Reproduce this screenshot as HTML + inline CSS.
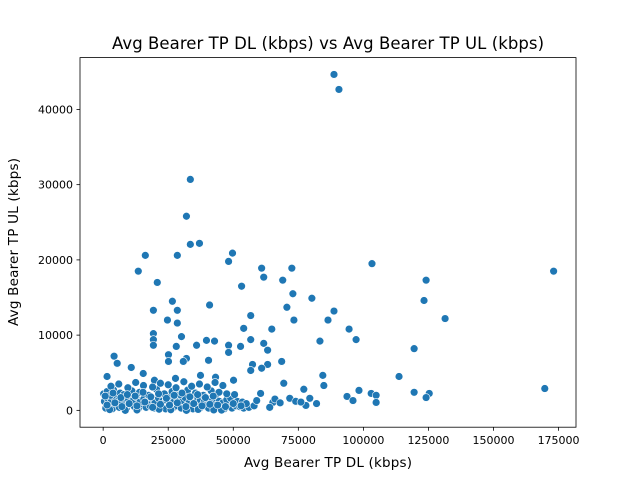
<!DOCTYPE html>
<html><head><meta charset="utf-8"><style>
html,body{margin:0;padding:0;background:#fff;}
svg{display:block;font-family:"DejaVu Sans","Liberation Sans",sans-serif;}
</style></head><body>
<svg id="chart" width="640" height="480" viewBox="0 0 640 480">
<rect x="0" y="0" width="640" height="480" fill="#fff"/>
<text x="328" y="49" font-size="16.5" text-anchor="middle" textLength="432">Avg Bearer TP DL (kbps) vs Avg Bearer TP UL (kbps)</text>
<g id="points"></g>
<g id="xticks"></g>
<g id="yticks"></g>
<rect x="80" y="57.6" width="496" height="369.6" fill="none" stroke="#000" stroke-width="0.8"/>
<text x="328" y="467" font-size="13.5" text-anchor="middle" textLength="168">Avg Bearer TP DL (kbps)</text>
<text x="18" y="242" font-size="13.5" text-anchor="middle" textLength="168" transform="rotate(-90 18 242)">Avg Bearer TP UL (kbps)</text>
</svg>
<script>
const xTicks=[0,25000,50000,75000,100000,125000,150000,175000];
const yTicks=[0,10000,20000,30000,40000];
const dlValues=[88700,90600,33500,32000,33500,37000,16200,28500,49700,48200,20800,13500,103300,60900,72500,61700,69000,53200,72900,80200,26600,28500,19300,88700,70600,40900,86400,56700,73300,24700,28500,54000,64800,94500,83300,97200,19300,19300,30100,39700,42800,35900,48200,28100,19300,61700,63200,56700,48200,4200,32000,40500,30800,25100,25100,57400,63200,68600,5400,10800,60900,56700,15400,1500,37400,84400,113700,19700,50100,69400,84800,43200,27800,169700,119500,98300,103000,104900,125300,124100,93700,96000,104900,77100,60500,65200,64000,77900,71700,79400,124100,123300,131400,119500,173100,52800,
1000,2000,3500,5000,6200,7500,9000,10500,12000,13500,15000,16500,18000,19500,21000,22500,24000,25500,27000,28500,30000,31500,33000,34500,36000,37500,39000,40500,42000,43500,45000,46500,48000,49500,51000,52500,54000,56000,58000,
500,1800,3000,4300,5800,7000,8400,9800,11200,12600,14100,15600,17000,18400,19900,21300,22800,24200,25700,27100,28600,30100,31500,33000,34400,35900,37300,38800,40200,41700,43100,44600,46000,47500,49000,51500,53500,
200,1500,2800,4000,6500,8000,11000,14000,17500,20500,23500,26500,29500,32500,35500,38500,41500,44500,47500,50500,
3000,6000,9500,12500,15500,19000,22000,25000,28000,31000,34000,37000,40000,43000,46000,
2500,8500,13000,21500,26000,32000,36500,42500,45500,55000,59000,66000,68000,74000,76000,82000,
1500,4500,7200,10000,13000,16000,19000,22000,25500,28500,31800,34800,38000,41000,44000,47000,50000,53000,
800,3800,6800,9300,12300,15300,18300,21300,24300,27300,30300,33300,36300,39300,42300];
const ulValues=[44650,42660,30700,25800,22060,22200,20600,20600,20900,19800,17000,18500,19500,18900,18900,17700,17300,16500,15500,14900,14500,13300,13300,13200,13700,14000,12000,12600,12000,12000,11600,10900,10800,10800,9200,9400,10200,9400,9800,9300,9200,8650,8650,8500,8650,8900,8000,9400,7700,7200,6900,6650,6500,7400,6500,6100,6100,6500,6250,5700,5600,5300,4900,4500,4650,4650,4500,4000,4000,3600,3300,4400,4250,2900,2400,2650,2250,2000,2250,1700,1850,1300,1050,2800,2250,1050,400,650,1600,1600,17300,14600,12200,8200,18500,8500,
300,600,200,900,400,700,300,800,500,250,900,400,600,300,700,500,200,800,400,600,300,900,500,200,700,400,600,300,800,500,400,200,700,300,600,500,300,400,600,
1200,1500,1100,1700,1300,1000,1600,1400,1200,1800,1100,1500,1300,1700,1000,1600,1200,1400,1800,1100,1500,1300,1700,1000,1600,1200,1400,1100,1500,1300,1700,1200,1000,1400,1600,1200,1100,
2200,2500,2000,2700,2300,2100,2600,2400,2000,2800,2200,2500,2100,2700,2300,2000,2600,2400,2200,2100,
3200,3500,3000,3700,3300,3100,3600,3400,3000,3800,3200,3500,3100,3700,3300,
100,0,50,150,80,0,120,60,30,900,1300,1500,1000,1200,1100,900,
700,1000,500,900,600,1100,400,800,700,1000,500,900,600,800,700,500,900,600,
1900,2300,1700,2100,1900,2400,1800,2200,1600,2000,2300,1800,2100,1700,1900];
const X0=80,X1=576,Y0=427.2,Y1=57.6;
const xMin=-8900,xMax=181700,yMin=-2240,yMax=46890;
function xs(v){return X0+(v-xMin)/(xMax-xMin)*(X1-X0);}
function ys(v){return Y0-(v-yMin)/(yMax-yMin)*(Y0-Y1);}
const NS='http://www.w3.org/2000/svg';
const pg=document.getElementById('points');
for(let i=0;i<dlValues.length;i++){
  const c=document.createElementNS(NS,'circle');
  c.setAttribute('cx',xs(dlValues[i]).toFixed(2));
  c.setAttribute('cy',ys(ulValues[i]).toFixed(2));
  c.setAttribute('r','3.9');
  c.setAttribute('fill','#1f77b4');
  c.setAttribute('stroke','#fff');
  c.setAttribute('stroke-width','0.6');
  
  
  pg.appendChild(c);
}
const xg=document.getElementById('xticks');
xTicks.forEach(t=>{
  const x=xs(t);
  const l=document.createElementNS(NS,'line');
  l.setAttribute('x1',x);l.setAttribute('x2',x);l.setAttribute('y1',Y0);l.setAttribute('y2',Y0+3.5);
  l.setAttribute('stroke','#000');l.setAttribute('stroke-width','0.8');
  
  
  xg.appendChild(l);
  const tx=document.createElementNS(NS,'text');
  tx.setAttribute('x',x);tx.setAttribute('y',Y0+17);tx.setAttribute('font-size','11');tx.setAttribute('text-anchor','middle');
  tx.textContent=t;
  
  
  xg.appendChild(tx);
});
const yg=document.getElementById('yticks');
yTicks.forEach(t=>{
  const y=ys(t);
  const l=document.createElementNS(NS,'line');
  l.setAttribute('x1',X0-3.5);l.setAttribute('x2',X0);l.setAttribute('y1',y);l.setAttribute('y2',y);
  l.setAttribute('stroke','#000');l.setAttribute('stroke-width','0.8');
  
  
  yg.appendChild(l);
  const tx=document.createElementNS(NS,'text');
  tx.setAttribute('x',X0-7);tx.setAttribute('y',y+4);tx.setAttribute('font-size','11');tx.setAttribute('text-anchor','end');
  tx.textContent=t;
  
  
  yg.appendChild(tx);
});
</script>
</body></html>
